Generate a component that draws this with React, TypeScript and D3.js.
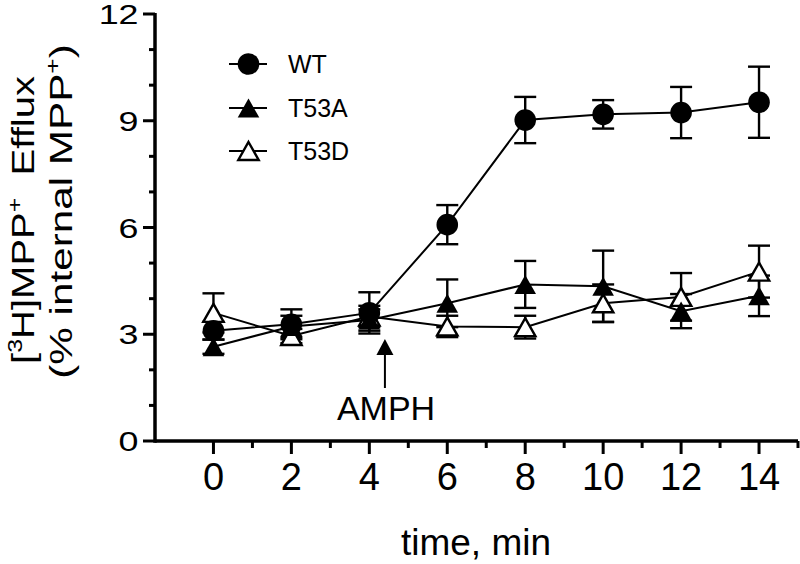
import React from "react";
import * as d3 from "d3";

const time = [0, 2, 4, 6, 8, 10, 12, 14];
const wtMean = [3.1, 3.28, 3.6, 6.08, 9.02, 9.18, 9.23, 9.52];
const wtErr = [0.25, 0.42, 0.58, 0.55, 0.65, 0.4, 0.72, 1.0];
const t53aMean = [2.65, 3.22, 3.4, 3.87, 4.4, 4.35, 3.65, 4.08];
const t53aErr = [0.2, 0.3, 0.3, 0.67, 0.66, 1.0, 0.48, 0.57];
const t53dMean = [3.6, 2.95, 3.5, 3.22, 3.2, 3.87, 4.05, 4.76];
const t53dErr = [0.55, 0.2, 0.3, 0.3, 0.32, 0.53, 0.67, 0.73];

const xMajor = [0, 2, 4, 6, 8, 10, 12, 14];
const xMinor = [1, 3, 5, 7, 9, 11, 13, 15];
const yMajor = [0, 3, 6, 9, 12];
const yMinor = [1, 2, 4, 5, 7, 8, 10, 11];
const legendNames = ["WT", "T53A", "T53D"];
const ampTime = 4.4;

const FONT = "'Liberation Sans', Arial, Helvetica, sans-serif";

type Kind = "circle" | "tri" | "otri";

function Marker({ kind, cx, cy }: { kind: Kind; cx: number; cy: number }) {
  if (kind === "circle") return <circle cx={cx} cy={cy} r={10.8} fill="#000" />;
  if (kind === "tri") {
    const w = 10.8, h = 9.5;
    return <path d={`M${cx},${cy - h}L${cx + w},${cy + h}L${cx - w},${cy + h}Z`} fill="#000" />;
  }
  const w = 10.2, h = 9.0;
  return (
    <path
      d={`M${cx},${cy - h}L${cx + w},${cy + h}L${cx - w},${cy + h}Z`}
      fill="#fff"
      stroke="#000"
      strokeWidth={2.4}
      strokeLinejoin="miter"
    />
  );
}

export default function App() {
  const x = d3.scaleLinear().domain([-1.5, 15]).range([155, 798]);
  const y = d3.scaleLinear().domain([0, 12]).range([441, 14]);

  const series: { name: string; mean: number[]; err: number[]; kind: Kind }[] = [
    { name: "T53D", mean: t53dMean, err: t53dErr, kind: "otri" },
    { name: "T53A", mean: t53aMean, err: t53aErr, kind: "tri" },
    { name: "WT", mean: wtMean, err: wtErr, kind: "circle" },
  ];

  const line = d3
    .line<number>()
    .x((_, i) => x(time[i]))
    .y((d) => y(d));

  const capW = 11;
  const legendKinds: Kind[] = ["circle", "tri", "otri"];
  const legendY = [64, 108, 151];

  return (
    <svg
      width={800}
      height={564}
      style={{ position: "absolute", left: 0, top: 0, display: "block", background: "#fff" }}
      fontFamily={FONT}
    >
      <rect x={0} y={0} width={800} height={564} fill="#fff" />

      {/* error bars */}
      {series.map((s) => (
        <g key={s.name + "err"} stroke="#000" strokeWidth={2.4}>
          {s.mean.map((m, i) => {
            const cx = x(time[i]);
            const top = y(m + s.err[i]);
            const bot = y(m - s.err[i]);
            return (
              <g key={i}>
                <line x1={cx} x2={cx} y1={top} y2={bot} />
                <line x1={cx - capW} x2={cx + capW} y1={top} y2={top} />
                <line x1={cx - capW} x2={cx + capW} y1={bot} y2={bot} />
              </g>
            );
          })}
        </g>
      ))}

      {/* lines */}
      {series.map((s) => (
        <path key={s.name + "line"} d={line(s.mean) || ""} fill="none" stroke="#000" strokeWidth={2} />
      ))}

      {/* markers */}
      {series.map((s) => (
        <g key={s.name + "mk"}>
          {s.mean.map((m, i) => (
            <Marker key={i} kind={s.kind} cx={x(time[i])} cy={y(m)} />
          ))}
        </g>
      ))}

      {/* axes */}
      <g stroke="#000" strokeLinecap="butt">
        <line x1={x(-1.5)} x2={x(15)} y1={y(0)} y2={y(0)} strokeWidth={3.5} />
        <line x1={x(-1.5)} x2={x(-1.5)} y1={y(0) + 1.75} y2={y(12) - 1} strokeWidth={3.5} />
        {xMajor.map((t) => (
          <line key={"xM" + t} x1={x(t)} x2={x(t)} y1={y(0)} y2={y(0) + 13} strokeWidth={3} />
        ))}
        {xMinor.map((t) => (
          <line key={"xm" + t} x1={x(t)} x2={x(t)} y1={y(0)} y2={y(0) + 7} strokeWidth={3} />
        ))}
        {yMajor.map((v) => (
          <line key={"yM" + v} x1={x(-1.5) - 12} x2={x(-1.5)} y1={y(v)} y2={y(v)} strokeWidth={3} />
        ))}
        {yMinor.map((v) => (
          <line key={"ym" + v} x1={x(-1.5) - 6} x2={x(-1.5)} y1={y(v)} y2={y(v)} strokeWidth={3} />
        ))}
      </g>

      {/* tick labels */}
      {xMajor.map((t) => (
        <text key={"xl" + t} x={x(t)} y={490} textAnchor="middle" fontSize={38} fill="#000">
          {t}
        </text>
      ))}
      {yMajor.map((v) => (
        <text
          key={"yl" + v}
          transform={`translate(138.5,${y(v) + 10}) scale(1.28,1)`}
          textAnchor="end"
          fontSize={28}
          fill="#000"
        >
          {v}
        </text>
      ))}

      {/* axis titles */}
      <text x={476} y={555} textAnchor="middle" fontSize={37} fill="#000">
        time, min
      </text>
      <g transform="translate(34,220) rotate(-90) scale(1.25,1)">
        <text x={0} y={0} textAnchor="middle" fontSize={32} fill="#000">
          [<tspan fontSize={20} dy={-12}>3</tspan>
          <tspan dy={12}>H]MPP</tspan>
          <tspan fontSize={20} dy={-12}>+</tspan>
          <tspan dy={12}>{"\u00a0\u00a0"}Efflux</tspan>
        </text>
      </g>
      <g transform="translate(72,211.5) rotate(-90) scale(1.32,1)">
        <text x={0} y={0} textAnchor="middle" fontSize={32} fill="#000">
          (% internal MPP<tspan fontSize={20} dy={-12}>+</tspan>
          <tspan dy={12}>)</tspan>
        </text>
      </g>

      {/* legend */}
      {legendNames.map((n, i) => (
        <g key={"lg" + n}>
          <line x1={229} x2={267} y1={legendY[i]} y2={legendY[i]} stroke="#000" strokeWidth={2} />
          <Marker kind={legendKinds[i]} cx={248.5} cy={legendY[i]} />
          <text x={288} y={legendY[i] + 9} fontSize={25} fill="#000">
            {n}
          </text>
        </g>
      ))}

      {/* AMPH arrow */}
      <line x1={x(ampTime)} x2={x(ampTime)} y1={354} y2={388} stroke="#000" strokeWidth={2} />
      <path
        d={`M${x(ampTime)},339L${x(ampTime) + 8.5},355L${x(ampTime) - 8.5},355Z`}
        fill="#000"
      />
      <text x={386} y={420} textAnchor="middle" fontSize={34} fill="#000">
        AMPH
      </text>
    </svg>
  );
}
